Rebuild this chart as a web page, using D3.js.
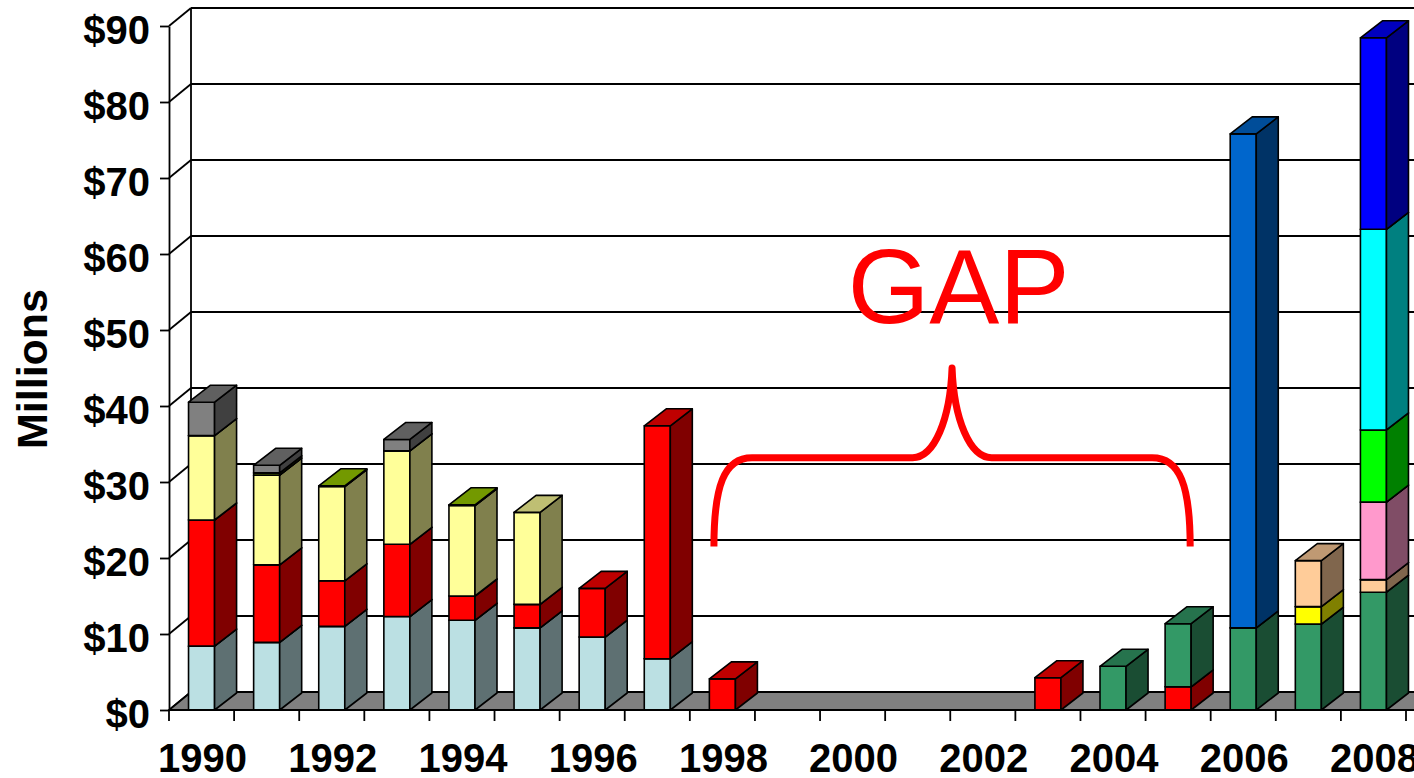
<!DOCTYPE html>
<html>
<head>
<meta charset="utf-8">
<script src="https://cdn.jsdelivr.net/npm/d3@7"></script>
<style>
  html, body { margin: 0; padding: 0; background: #fff; }
  svg { display: block; }
</style>
</head>
<body>
<svg id="chart" width="1414" height="778"></svg>
<script>
// ---- data (US$ millions per year, stacked by funding source) ----
const years = ["1990","1991","1992","1993","1994","1995","1996","1997","1998","1999",
               "2000","2001","2002","2003","2004","2005","2006","2007","2008"];
const yearLabels = ["1990","1992","1994","1996","1998","2000","2002","2004","2006","2008"];
const yTicks = [0,10,20,30,40,50,60,70,80,90];

const lightBlue  = [8.4, 8.9, 11.0, 12.3, 11.8, 10.8, 9.6, 6.75, 0, 0, 0, 0, 0, 0, 0, 0, 0, 0, 0];
const red        = [16.6, 10.2, 6.0, 9.5, 3.2, 3.1, 6.4, 30.65, 4.1, 0, 0, 0, 0, 4.25, 0, 3.05, 0, 0, 0];
const seaGreen   = [0, 0, 0, 0, 0, 0, 0, 0, 0, 0, 0, 0, 0, 0, 5.75, 8.3, 10.8, 11.3, 15.5];
const paleYellow = [11.1, 11.8, 12.4, 12.3, 11.9, 12.1, 0, 0, 0, 0, 0, 0, 0, 0, 0, 0, 0, 0, 0];
const olive      = [0, 0.3, 0.1, 0, 0.1, 0, 0, 0, 0, 0, 0, 0, 0, 0, 0, 0, 0, 0, 0];
const gray       = [4.4, 1.0, 0, 1.5, 0, 0, 0, 0, 0, 0, 0, 0, 0, 0, 0, 0, 0, 0, 0];
const steelBlue  = [0, 0, 0, 0, 0, 0, 0, 0, 0, 0, 0, 0, 0, 0, 0, 0, 65.0, 0, 0];
const yellow     = [0, 0, 0, 0, 0, 0, 0, 0, 0, 0, 0, 0, 0, 0, 0, 0, 0, 2.3, 0];
const peach      = [0, 0, 0, 0, 0, 0, 0, 0, 0, 0, 0, 0, 0, 0, 0, 0, 0, 6.05, 1.65];
const pink       = [0, 0, 0, 0, 0, 0, 0, 0, 0, 0, 0, 0, 0, 0, 0, 0, 0, 0, 10.2];
const lime       = [0, 0, 0, 0, 0, 0, 0, 0, 0, 0, 0, 0, 0, 0, 0, 0, 0, 0, 9.5];
const cyan       = [0, 0, 0, 0, 0, 0, 0, 0, 0, 0, 0, 0, 0, 0, 0, 0, 0, 0, 26.4];
const blue       = [0, 0, 0, 0, 0, 0, 0, 0, 0, 0, 0, 0, 0, 0, 0, 0, 0, 0, 25.2];

// stacking order, bottom to top, with front-face colours
const seriesKeys   = ["lightBlue","red","seaGreen","paleYellow","olive","gray",
                      "steelBlue","yellow","peach","pink","lime","cyan","blue"];
const seriesValues = [lightBlue, red, seaGreen, paleYellow, olive, gray,
                      steelBlue, yellow, peach, pink, lime, cyan, blue];
const seriesColors = ["#BBE0E3","#FF0000","#339966","#FFFF99","#99CC00","#808080",
                      "#0066CC","#FFFF00","#FFCC99","#FF99CC","#00FF00","#00FFFF","#0000FF"];

// annotation: brace over the missing years
const gapLabel = "GAP";
const braceSpan = ["1998", "2005"];
const braceLevels = { foot: 21.5, arm: 33.2, tip: 45 };

// ---- layout ----
const svg = d3.select("#chart");
const W = 1414, H = 778;
const FONT = "'Liberation Sans', Arial, Helvetica, sans-serif";
const wallDx = 22, wallDy = 18;   // depth of back wall
const barDx = 22, barDy = 17;     // depth of each column

const y = d3.scaleLinear().domain([0, 90]).range([710, 26]);
const x = d3.scaleBand().domain(years).range([169, 1406]).padding(0);
const bw = x.bandwidth();
const barW = bw * 0.4;

const color = d3.scaleOrdinal().domain(seriesKeys).range(seriesColors);
const shade = (c, k) => { const r = d3.rgb(c); return d3.rgb(r.r * k, r.g * k, r.b * k).formatHex(); };

const rows = years.map((yr, i) => {
  const r = { year: yr };
  seriesKeys.forEach((k, j) => r[k] = seriesValues[j][i]);
  return r;
});
const stacked = d3.stack().keys(seriesKeys)(rows);

// ---- walls and gridlines ----
const grid = svg.append("g");
// back-wall gridlines
grid.selectAll("line.back").data(yTicks).join("line")
  .attr("x1", 169 + wallDx).attr("x2", W + 40)
  .attr("y1", d => y(d) - wallDy).attr("y2", d => y(d) - wallDy)
  .attr("stroke", "#000").attr("stroke-width", 1.8);
// side-wall diagonals
grid.selectAll("line.side").data(yTicks).join("line")
  .attr("x1", 169).attr("x2", 169 + wallDx)
  .attr("y1", d => y(d)).attr("y2", d => y(d) - wallDy)
  .attr("stroke", "#000").attr("stroke-width", 1.8);
// back-wall left edge
grid.append("line")
  .attr("x1", 169 + wallDx).attr("x2", 169 + wallDx)
  .attr("y1", y(90) - wallDy).attr("y2", y(0) - wallDy)
  .attr("stroke", "#000").attr("stroke-width", 1.8);

// floor
const floorPath = d3.path();
floorPath.moveTo(169, y(0));
floorPath.lineTo(W + 40, y(0));
floorPath.lineTo(W + 40 + wallDx, y(0) - wallDy);
floorPath.lineTo(169 + wallDx, y(0) - wallDy);
floorPath.closePath();
svg.append("path").attr("d", floorPath.toString())
  .attr("fill", "#808080").attr("stroke", "#000").attr("stroke-width", 1.8);

// ---- columns ----
const bars = svg.append("g").attr("stroke", "#000").attr("stroke-width", 1.6)
  .attr("stroke-linejoin", "round");
years.forEach((yr, i) => {
  const bx = x(yr) + (bw - barW) / 2;
  stacked.forEach(layer => {
    const [v0, v1] = layer[i];
    if (v1 - v0 <= 0) return;
    const c = color(layer.key);
    const yb = y(v0), yt = y(v1);
    const g = bars.append("g");
    g.append("path")
      .attr("d", `M${bx},${yt}H${bx + barW}V${yb}H${bx}Z`)
      .attr("fill", c);
    g.append("path")
      .attr("d", `M${bx + barW},${yb}L${bx + barW + barDx},${yb - barDy}L${bx + barW + barDx},${yt - barDy}L${bx + barW},${yt}Z`)
      .attr("fill", shade(c, 0.5));
    g.append("path")
      .attr("d", `M${bx},${yt}L${bx + barDx},${yt - barDy}L${bx + barW + barDx},${yt - barDy}L${bx + barW},${yt}Z`)
      .attr("fill", shade(c, 0.75));
  });
});

// ---- axes ----
const yAxis = svg.append("g").attr("transform", "translate(169,0)")
  .call(d3.axisLeft(y).tickValues(yTicks).tickFormat(d => "$" + d)
        .tickSize(9).tickSizeOuter(0).tickPadding(10));
yAxis.select(".domain").attr("stroke", "#000").attr("stroke-width", 1.8);
yAxis.selectAll(".tick line").attr("stroke", "#000").attr("stroke-width", 1.8);
yAxis.selectAll(".tick text")
  .attr("dy", "0.43em")
  .attr("fill", "#000")
  .style("font-family", FONT).style("font-size", "40px").style("font-weight", "bold");

// category axis: line, boundary ticks, labels every other year
const xa = svg.append("g");
xa.append("line").attr("x1", 169).attr("x2", W + 40)
  .attr("y1", y(0)).attr("y2", y(0)).attr("stroke", "#000").attr("stroke-width", 1.8);
xa.selectAll("line.tick").data(years.concat(["end"])).join("line")
  .attr("x1", d => d === "end" ? x.range()[1] : x(d))
  .attr("x2", d => d === "end" ? x.range()[1] : x(d))
  .attr("y1", y(0)).attr("y2", y(0) + 11)
  .attr("stroke", "#000").attr("stroke-width", 1.8);
xa.selectAll("text").data(yearLabels).join("text")
  .attr("x", d => x(d) + bw / 2 + 1)
  .attr("y", 772)
  .attr("text-anchor", "middle")
  .style("font-family", FONT).style("font-size", "40px").style("font-weight", "bold")
  .text(d => d);

// axis title
svg.append("text")
  .attr("transform", `translate(47,${(y(90) + y(0)) / 2 + 1}) rotate(-90)`)
  .attr("text-anchor", "middle")
  .style("font-family", FONT).style("font-size", "43px").style("font-weight", "bold")
  .text("Millions");

// ---- GAP annotation ----
const bL = x(braceSpan[0]) + bw * 0.37;
const bR = x(braceSpan[1]) + bw * 0.685;
const bC = (bL + bR) / 2;
const yF = y(braceLevels.foot), yA = y(braceLevels.arm), yT = y(braceLevels.tip);
const half = bR - bC;
const br = d3.path();
br.moveTo(bL, yF);
br.bezierCurveTo(bL, yF - (yF - yA) * 0.68, bL + half * 0.042, yA, bL + half * 0.16, yA);
br.lineTo(bC - half * 0.166, yA);
br.bezierCurveTo(bC - half * 0.074, yA, bC - half * 0.008, yA - (yA - yT) * 0.43, bC, yT);
br.bezierCurveTo(bC + half * 0.008, yA - (yA - yT) * 0.43, bC + half * 0.074, yA, bC + half * 0.166, yA);
br.lineTo(bR - half * 0.16, yA);
br.bezierCurveTo(bR - half * 0.042, yA, bR, yF - (yF - yA) * 0.68, bR, yF);
svg.append("path").attr("d", br.toString())
  .attr("fill", "none").attr("stroke", "#FF0000").attr("stroke-width", 7)
  .attr("stroke-linejoin", "round").attr("stroke-linecap", "butt");

svg.append("text")
  .attr("x", bC + 6.5).attr("y", 322.5)
  .attr("text-anchor", "middle")
  .attr("fill", "#FF0000")
  .style("font-family", FONT).style("font-size", "105px")
  .text(gapLabel);
</script>
</body>
</html>
